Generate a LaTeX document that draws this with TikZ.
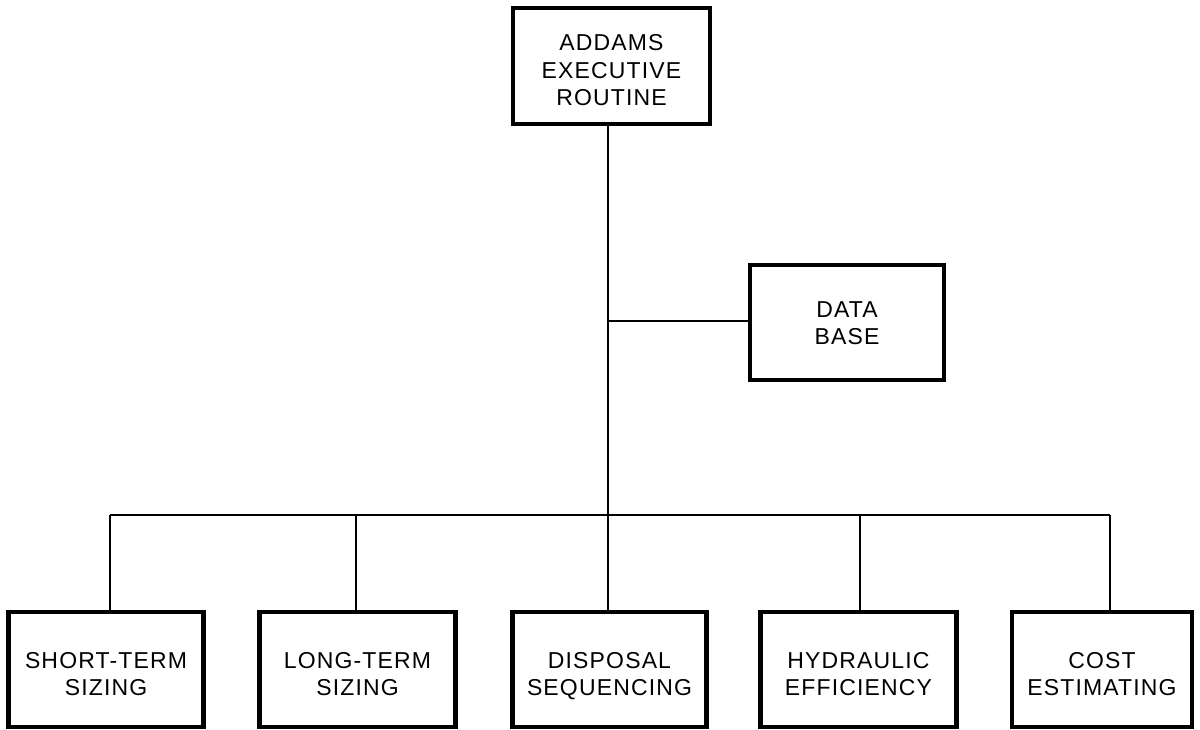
\documentclass[tikz,border=0pt]{standalone}
\usepackage{fontspec}
\setmainfont[LetterSpace=5]{Liberation Sans}
\begin{document}
\begin{tikzpicture}[x=0.5pt,y=-0.5pt,
  box/.style={draw,line width=2.4pt,minimum height=57.5pt,inner sep=0pt,align=center,
    font=\fontsize{11.5}{13.7}\selectfont,text height=25.9pt,text depth=0pt},
  tall/.style={text height=39.6pt,text depth=0pt},
  mid/.style={text height=21.9pt,text depth=0pt},
  link/.style={line width=1.4pt}]
\useasboundingbox (0,0) rectangle (1200,729);
\node[box,tall,minimum width=98.5pt,minimum height=58pt] (top) at (611.5,66) {ADDAMS\\EXECUTIVE\\ROUTINE};
\node[box,mid,minimum width=97pt] (data) at (847,322.5) {DATA\\BASE};
\node[box,minimum width=97.5pt] (b1) at (106,669.5) {SHORT-TERM\\SIZING};
\node[box,minimum width=98pt] (b2) at (357.5,669.5) {LONG-TERM\\SIZING};
\node[box,minimum width=97pt] (b3) at (609.5,669.5) {DISPOSAL\\SEQUENCING};
\node[box,minimum width=98pt] (b4) at (858.5,669.5) {HYDRAULIC\\EFFICIENCY};
\node[box,minimum width=90pt] (b5) at (1102,669.5) {COST\\ESTIMATING};
\coordinate (jd) at (608,321);
\coordinate (bus) at (608,515);
\coordinate (l1) at (110,515);
\coordinate (l2) at (356,515);
\coordinate (l4) at (860,515);
\coordinate (l5) at (1110,515);
\draw[link] (top.south -| jd) -- (bus);
\draw[link] (bus) -- (b3.north -| bus);
\draw[link] (jd) -- (data.west |- jd);
\draw[link] (l1) -- (l5);
\draw[link] (l1) -- (b1.north -| l1);
\draw[link] (l2) -- (b2.north -| l2);
\draw[link] (l4) -- (b4.north -| l4);
\draw[link] (l5) -- (b5.north -| l5);
\end{tikzpicture}
\end{document}
